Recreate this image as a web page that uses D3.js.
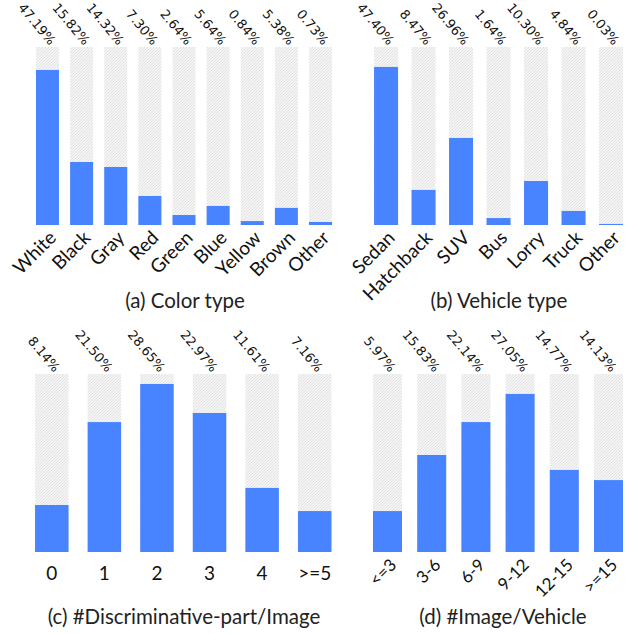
<!DOCTYPE html>
<html>
<head>
<meta charset="utf-8">
<script src="https://cdn.jsdelivr.net/npm/d3@7"></script>
<style>
  body { margin: 0; background: #fff; }
  svg { display: block; }
</style>
</head>
<body>
<svg id="chart" width="631" height="634"></svg>
<script>
// (a) colour type
const colorCats = ["White", "Black", "Gray", "Red", "Green", "Blue", "Yellow", "Brown", "Other"];
const colorPct = ["47.19%", "15.82%", "14.32%", "7.30%", "2.64%", "5.64%", "0.84%", "5.38%", "0.73%"];
const colorBars = [87.1, 35.4, 32.6, 16.3, 5.6, 10.7, 2.2, 9.6, 1.7];

// (b) vehicle type
const vehicleCats = ["Sedan", "Hatchback", "SUV", "Bus", "Lorry", "Truck", "Other"];
const vehiclePct = ["47.40%", "8.47%", "26.96%", "1.64%", "10.30%", "4.84%", "0.03%"];
const vehicleBars = [88.8, 19.7, 48.9, 3.9, 24.7, 7.9, 0.6];

// (c) discriminative parts per image
const partCats = ["0", "1", "2", "3", "4", ">=5"];
const partPct = ["8.14%", "21.50%", "28.65%", "22.97%", "11.61%", "7.16%"];
const partBars = [26.4, 73.0, 94.4, 78.1, 36.0, 23.0];

// (d) images per vehicle
const imageCats = ["<=3", "3-6", "6-9", "9-12", "12-15", ">=15"];
const imagePct = ["5.97%", "15.83%", "22.14%", "27.05%", "14.77%", "14.13%"];
const imageBars = [23.0, 54.5, 73.0, 88.8, 46.1, 40.4];

const svg = d3.select("#chart");
const blue = "#4884ff";
const labelFont = "Lato, 'Open Sans', sans-serif";

// hatched background for the full column
const defs = svg.append("defs");
const pat = defs.append("pattern")
    .attr("id", "hatch")
    .attr("patternUnits", "userSpaceOnUse")
    .attr("width", 3).attr("height", 3);
pat.append("rect").attr("width", 3).attr("height", 3).attr("fill", "#f5f5f5");
pat.append("path")
    .attr("d", "M-1,1 L1,-1 M0,3 L3,0 M2,4 L4,2")
    .attr("stroke", "#dcdcdc").attr("stroke-width", 0.8);

const panels = [
  { cats: colorCats, pct: colorPct, vals: colorBars, title: "(a) Color type",
    x: [30.4, 337.6], pad: 0.326, top: 47, bottom: 225, rotate: true, tickSize: 19, titleX: 185, titleY: 308 },
  { cats: vehicleCats, pct: vehiclePct, vals: vehicleBars, title: "(b) Vehicle type",
    x: [367.3, 629.8], pad: 0.36, top: 47, bottom: 225, rotate: true, tickSize: 19, titleX: 499, titleY: 308 },
  { cats: partCats, pct: partPct, vals: partBars, title: "(c) #Discriminative-part/Image",
    x: [25.5, 341], pad: 0.363, top: 374, bottom: 552, rotate: false, tickSize: 19, titleX: 184, titleY: 624 },
  { cats: imageCats, pct: imagePct, vals: imageBars, title: "(d) #Image/Vehicle",
    x: [365.4, 630.6], pad: 0.344, top: 374, bottom: 552, rotate: true, tickSize: 17, titleX: 503, titleY: 624 }
];

panels.forEach(p => {
  const xScale = d3.scaleBand()
      .domain(p.cats)
      .range(p.x)
      .paddingInner(p.pad)
      .paddingOuter(p.pad / 2);
  const yScale = d3.scaleLinear()
      .domain([0, 100])
      .range([p.bottom, p.top]);

  const g = svg.append("g");

  // full-height hatched columns
  g.selectAll(".bg")
    .data(p.cats)
    .join("rect")
    .attr("x", d => xScale(d))
    .attr("y", yScale(100))
    .attr("width", xScale.bandwidth())
    .attr("height", yScale(0) - yScale(100))
    .attr("fill", "url(#hatch)");

  // blue bars
  g.selectAll(".bar")
    .data(p.vals)
    .join("rect")
    .attr("x", (d, i) => xScale(p.cats[i]))
    .attr("y", d => yScale(d))
    .attr("width", xScale.bandwidth())
    .attr("height", d => yScale(0) - yScale(d))
    .attr("fill", blue);

  // percentage labels above columns
  g.selectAll(".pct")
    .data(p.pct)
    .join("text")
    .attr("transform", (d, i) =>
      `translate(${xScale(p.cats[i]) + xScale.bandwidth() / 2 + 2}, ${yScale(100) - 1}) rotate(50)`)
    .attr("text-anchor", "end")
    .attr("font-family", "'DejaVu Sans', sans-serif")
    .attr("font-size", 13)
    .attr("fill", "#111")
    .text(d => d);

  // x axis labels
  const axis = g.append("g")
      .attr("transform", `translate(0, ${p.bottom})`)
      .call(d3.axisBottom(xScale).tickSize(0).tickPadding(0));
  axis.select(".domain").remove();
  axis.selectAll("text")
      .attr("font-family", labelFont)
      .attr("font-size", p.tickSize)
      .attr("fill", "#111");
  if (p.rotate) {
    axis.selectAll("text")
        .attr("text-anchor", "end")
        .attr("dy", null)
        .attr("y", 0)
        .attr("transform", "translate(10, 14) rotate(-45)");
  } else {
    axis.selectAll("text")
        .attr("dy", null)
        .attr("y", 28);
  }

  // panel caption
  svg.append("text")
    .attr("x", p.titleX)
    .attr("y", p.titleY)
    .attr("text-anchor", "middle")
    .attr("font-family", labelFont)
    .attr("font-size", 20.5)
    .attr("fill", "#222")
    .text(p.title);
});
</script>
</body>
</html>
